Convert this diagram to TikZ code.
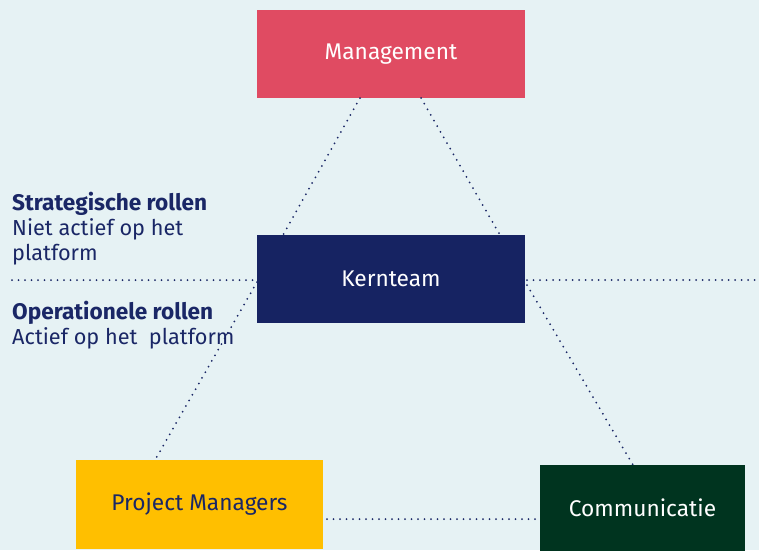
\documentclass[tikz,border=0pt]{standalone}
\usepackage{fontspec}
\setmainfont{Fira Sans}
\definecolor{bg}{HTML}{E6F2F4}
\definecolor{mgmt}{HTML}{E04B62}
\definecolor{kern}{HTML}{162362}
\definecolor{pm}{HTML}{FFBF00}
\definecolor{comm}{HTML}{00341F}
\definecolor{navy}{HTML}{1A2766}
\newcommand{\regtxt}{\fontsize{21.7}{25}\selectfont}
\begin{document}
\begin{tikzpicture}[x=1pt,y=-1pt,
  boxstyle/.style={rectangle,inner sep=0pt,font=\fontsize{22.7}{26}\selectfont},
  dotline/.style={draw=navy,line width=2pt,line cap=round,dash pattern=on 0pt off 6.5pt},
  lbl/.style={anchor=north west,inner sep=0pt,text=navy,font=\fontsize{22.6}{25}\selectfont,align=left}]
\fill[bg] (0,0) rectangle (759,550);
\useasboundingbox (0,0) rectangle (759,550);
\node[boxstyle,fill=mgmt,text=white,minimum width=268pt,minimum height=88pt] (mg) at (391,54) {Management};
\node[boxstyle,fill=kern,text=white,minimum width=268pt,minimum height=88pt] (kt) at (391,279) {Kernteam};
\node[boxstyle,fill=pm,text=navy,minimum width=247pt,minimum height=89pt] (pmg) at (199.5,504.5) {Project Managers};
\node[boxstyle,fill=comm,text=white,minimum width=205pt,minimum height=86pt] (cm) at (642.5,508) {Communicatie};
\coordinate (m1) at (360,98);
\coordinate (m2) at (421,98);
\coordinate (k1) at (283,235);
\coordinate (k2) at (500,235);
\coordinate (k3) at (257,282);
\coordinate (k4) at (527,285);
\coordinate (p1) at (155,460);
\coordinate (c1) at (633,465);
\coordinate (p2) at (327,519);
\coordinate (c2) at (540,519);
\coordinate (hl) at (12,280);
\coordinate (hla) at (257,280);
\coordinate (hr) at (527,280);
\coordinate (hrb) at (759,280);
\draw[dotline] (m1) -- (k1);
\draw[dotline] (m2) -- (k2);
\draw[dotline] (k3) -- (p1);
\draw[dotline] (k4) -- (c1);
\draw[dotline] (p2) -- (c2);
\draw[dotline] (hl) -- (hla);
\draw[dotline] (hr) -- (hrb);
\node[lbl] (t1) at (12,192) {\textbf{Strategische rollen}\\{\regtxt Niet actief op het}\\{\regtxt platform}};
\node[lbl] (t2) at (12,301) {\textbf{Operationele rollen}\\{\regtxt Actief op het~ platform}};
\end{tikzpicture}
\end{document}
